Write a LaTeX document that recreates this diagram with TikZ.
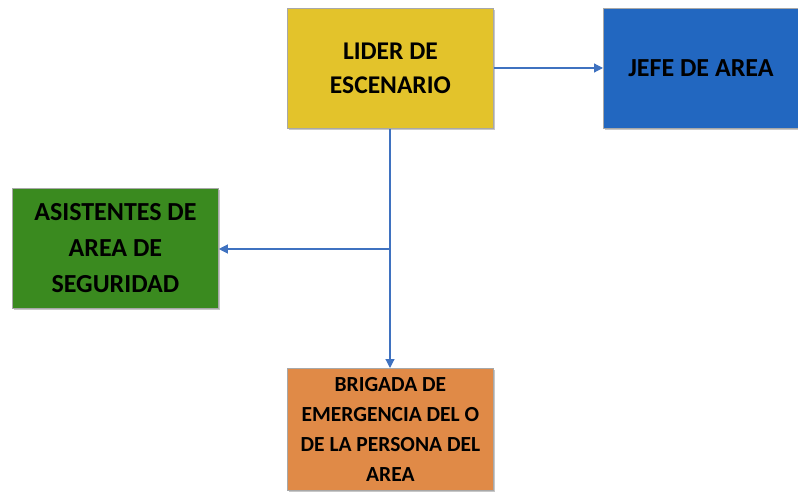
\documentclass[tikz,border=0pt]{standalone}
\usepackage{fontspec}
\setmainfont{Carlito}
\usetikzlibrary{arrows.meta}
\definecolor{cyellow}{HTML}{E3C32B}
\definecolor{cblue}{HTML}{2267C0}
\definecolor{cgreen}{HTML}{3A8A1F}
\definecolor{corange}{HTML}{E08A47}
\definecolor{carrow}{HTML}{3F72C0}
\definecolor{cborder}{HTML}{A8A8A8}
\tikzset{
  box/.style={draw=cborder, line width=0.8pt, minimum width=206pt, minimum height=120pt,
    inner sep=0pt, align=center, font=\bfseries, text=black, anchor=north west,
    preaction={fill=black!22, transform canvas={xshift=2pt,yshift=-2pt}}},
  conn/.style={draw=carrow, line width=1.2pt, -{Triangle[length=9pt,width=9pt]}}
}
\begin{document}
\begin{tikzpicture}[x=1pt,y=-1pt]
\useasboundingbox (0,0) rectangle (798,494);
\clip (0,0) rectangle (798,494);
\node[box, fill=cyellow, font=\bfseries\fontsize{25.5}{34.5}\selectfont] (lider) at (287,8) {LIDER DE\\ESCENARIO};
\node[box, fill=cblue, minimum width=200pt, font=\bfseries\fontsize{26}{36}\selectfont] (jefe) at (603,8) {\hspace*{-5pt}JEFE DE AREA};
\node[box, fill=cgreen, font=\bfseries\fontsize{26}{36}\selectfont] (asis) at (12,188) {ASISTENTES DE\\AREA DE\\SEGURIDAD};
\node[box, fill=corange, minimum height=122pt, font=\bfseries\fontsize{21.5}{30}\selectfont] (brig) at (287,368) {BRIGADA DE\\EMERGENCIA DEL O\\DE LA PERSONA DEL\\AREA};
\coordinate (branch) at (390,249);
\draw[conn] (lider.east |- 0,68) -- (jefe.west |- 0,68);
\draw[conn] (lider.south -| branch) -- (brig.north -| branch);
\draw[conn] (branch) -- (asis.east |- branch);
\end{tikzpicture}
\end{document}
